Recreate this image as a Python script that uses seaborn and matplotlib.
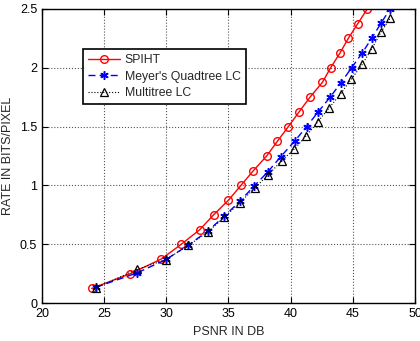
import matplotlib
matplotlib.use("Agg")
import matplotlib.pyplot as plt
import seaborn as sns
import numpy as np

rate = [0.125, 0.25, 0.375, 0.5, 0.625, 0.75, 0.875, 1.0, 1.125, 1.25,
        1.375, 1.5, 1.625, 1.75, 1.875, 2.0, 2.125, 2.25, 2.375, 2.5]
spiht_psnr = [24.0, 27.1, 29.6, 31.2, 32.7, 33.8, 35.0, 36.0, 37.0, 38.07,
              38.93, 39.82, 40.68, 41.56, 42.55, 43.22, 43.97, 44.64, 45.40, 46.17]
meyer_psnr = [24.34, 27.67, 29.98, 31.77, 33.33, 34.67, 35.93, 37.08, 38.18, 39.2,
              40.35, 41.29, 42.23, 43.17, 44.05, 44.91, 45.77, 46.52, 47.27, 48.0]
meyer_rate = [0.135, 0.258, 0.371, 0.493, 0.612, 0.74, 0.867, 0.997, 1.117, 1.244,
              1.38, 1.5, 1.627, 1.749, 1.873, 2.0, 2.128, 2.25, 2.378, 2.5]
multi_psnr = [24.34, 27.62, 29.98, 31.77, 33.33, 34.67, 35.93, 37.13, 38.2, 39.28,
              40.3, 41.24, 42.18, 43.11, 44.03, 44.86, 45.77, 46.52, 47.25, 48.0]
multi_rate = [0.13, 0.286, 0.37, 0.49, 0.605, 0.73, 0.855, 0.98, 1.09, 1.21,
              1.31, 1.42, 1.54, 1.66, 1.78, 1.90, 2.03, 2.16, 2.30, 2.42]

sns.set_style("white")
plt.rcParams['font.family'] = ['Liberation Sans', 'DejaVu Sans']

fig = plt.figure(figsize=(4.2, 3.41), dpi=100)
ax = fig.add_axes([0.1, 0.111, 0.888, 0.863])

sns.lineplot(x=spiht_psnr, y=rate, ax=ax, sort=False, color='red', linestyle='-',
             linewidth=1.0, marker='o', markersize=5.5, markerfacecolor='none',
             markeredgecolor='red', markeredgewidth=1.0, label='SPIHT')
sns.lineplot(x=meyer_psnr, y=meyer_rate, ax=ax, sort=False, color='blue', linestyle=(0, (5, 3)),
             linewidth=1.0, marker=(6, 2, 0), markersize=6, markeredgecolor='blue',
             markerfacecolor='blue', markeredgewidth=1.1, label="Meyer's Quadtree LC")
sns.lineplot(x=multi_psnr, y=multi_rate, ax=ax, sort=False, color='black', linestyle=':',
             linewidth=0.8, marker='^', markersize=5.5, markerfacecolor='none',
             markeredgecolor='black', markeredgewidth=0.9, label='Multitree LC')

ax.set_xlim(20, 50)
ax.set_ylim(0, 2.5)
ax.set_xticks([20, 25, 30, 35, 40, 45, 50])
ax.set_yticks([0, 0.5, 1, 1.5, 2, 2.5])
ax.set_yticklabels(['0', '0.5', '1', '1.5', '2', '2.5'])
ax.grid(True, linestyle=':', color='#555555', linewidth=0.8)
for s in ax.spines.values():
    s.set_visible(True)
    s.set_color('black')
    s.set_linewidth(1.0)
ax.tick_params(direction='in', length=4, labelsize=9, colors='black',
               top=True, right=True, bottom=True, left=True)
ax.set_xlabel('PSNR IN DB', fontsize=9)
ax.set_ylabel('RATE IN BITS/PIXEL', fontsize=9)

leg = ax.legend(loc='upper left', bbox_to_anchor=(0.109, 0.864), fontsize=8.8,
                frameon=True, fancybox=False, edgecolor='black', framealpha=1,
                handlelength=2.6, borderpad=0.45, labelspacing=0.35, handletextpad=0.4,
                borderaxespad=0)
leg.get_frame().set_linewidth(1.2)

fig.savefig('out.png', dpi=100)
